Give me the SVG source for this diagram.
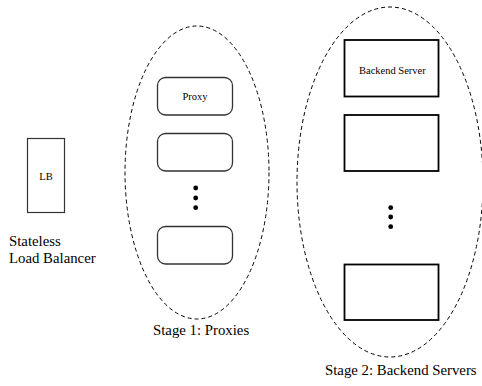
<svg xmlns="http://www.w3.org/2000/svg" width="482" height="386" viewBox="0 0 482 386">
<style>
.t{font-family:"Liberation Serif","Times New Roman",serif;fill:#000}
.s{font-size:10.5px}
.l{font-size:14.8px}
.grp{fill:none;stroke:#000;stroke-width:1;stroke-dasharray:4 3}
.lb{fill:#fff;stroke:#333;stroke-width:1.2}
.px{fill:#fff;stroke:#333;stroke-width:1.3}
.be{fill:#fff;stroke:#000;stroke-width:1.8}
.dot{fill:#000}
</style>
<rect width="482" height="386" fill="#fff"/>
<g id="stage1">
<ellipse class="grp" cx="197" cy="172.5" rx="72" ry="146.5"/>
<text class="t l" x="153" y="335">Stage 1: Proxies</text>
</g>
<g id="stage2">
<ellipse class="grp" cx="390" cy="182" rx="93" ry="175"/>
<text class="t l" x="325" y="375">Stage 2: Backend Servers</text>
</g>
<g id="lb">
<rect class="lb" x="27.5" y="138.5" width="37" height="74"/>
<text class="t s" x="46" y="180" text-anchor="middle">LB</text>
<text class="t l" x="9" y="246">Stateless</text>
<text class="t l" x="9" y="263">Load Balancer</text>
</g>
<g id="proxy1">
<rect class="px" x="157.5" y="77.5" width="75" height="37.5" rx="8"/>
<text class="t s" x="195" y="99.5" text-anchor="middle">Proxy</text>
</g>
<g id="proxy2">
<rect class="px" x="157.5" y="133.5" width="75" height="37.5" rx="8"/>
</g>
<g id="proxydots">
<circle class="dot" cx="195.7" cy="188" r="2.4"/>
<circle class="dot" cx="195.7" cy="198" r="2.4"/>
<circle class="dot" cx="195.7" cy="207.7" r="2.4"/>
</g>
<g id="proxy3">
<rect class="px" x="157.5" y="226.5" width="75" height="37.5" rx="8"/>
</g>
<g id="backend1">
<rect class="be" x="344.5" y="40" width="94" height="56.5"/>
<text class="t s" x="359" y="74">Backend Server</text>
</g>
<g id="backend2">
<rect class="be" x="344.5" y="115" width="94" height="56"/>
</g>
<g id="backenddots">
<circle class="dot" cx="390.7" cy="207.7" r="2.4"/>
<circle class="dot" cx="390.7" cy="217" r="2.4"/>
<circle class="dot" cx="390.7" cy="226.7" r="2.4"/>
</g>
<g id="backend3">
<rect class="be" x="344.5" y="264.5" width="94" height="55.5"/>
</g>
<g id="connectors"></g>
</svg>
